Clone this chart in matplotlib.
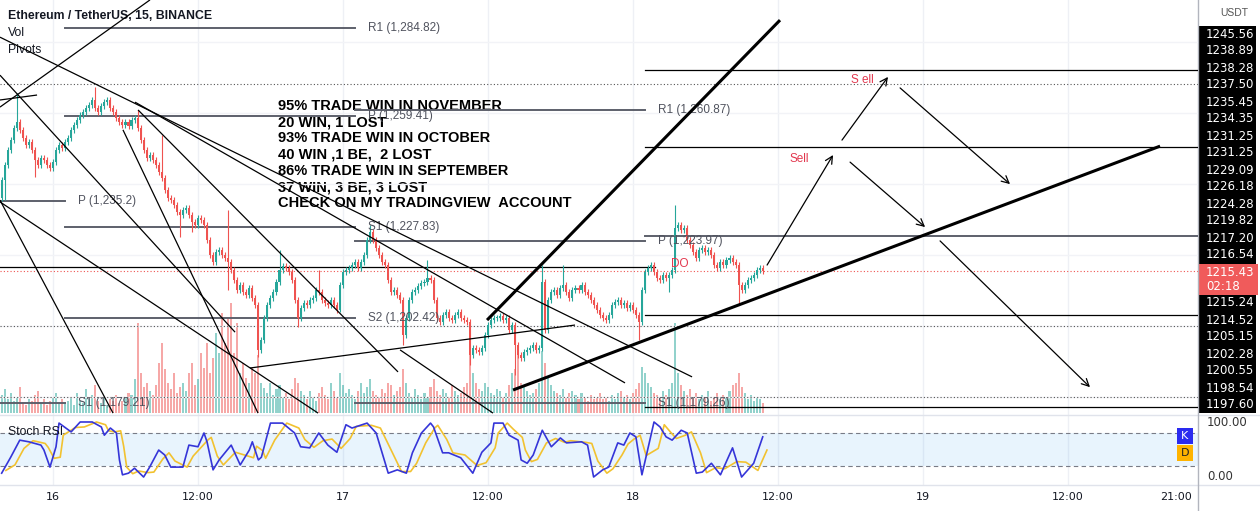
import matplotlib
matplotlib.use("Agg")
import matplotlib.pyplot as plt
from matplotlib.patches import Rectangle
import numpy as np

W, H = 1260, 511
FONT = ["Liberation Sans", "DejaVu Sans"]

# ---------------- data ----------------
# 15 min candles, x = hours after 16 Nov 00:00 (first candle 15 Nov 19:45)
first_hour = -4.25
bar_step = 0.25
first_open = 1236.0
closes = [
    1241.1, 1245.3, 1249.5, 1252.3, 1255.7, 1257.4, 1255.2, 1252.9, 1250.9, 1251.8,
    1249.5, 1246.7, 1245.3, 1247.3, 1246.7, 1245.3, 1244.4, 1246.1, 1249.5, 1250.9,
    1250.1, 1251.8, 1252.9, 1255.2, 1256.6, 1258.0, 1259.4, 1260.2, 1261.4, 1262.2,
    1263.6, 1261.4, 1260.2, 1261.9, 1263.0, 1263.6, 1261.4, 1260.2, 1258.5, 1257.4,
    1256.6, 1257.4, 1256.3, 1258.0, 1258.5, 1255.7, 1252.3, 1249.5, 1247.3, 1248.1,
    1246.7, 1245.3, 1243.3, 1241.6, 1238.2, 1236.0, 1235.4, 1234.0, 1232.0, 1231.2,
    1232.6, 1233.2, 1231.2, 1229.2, 1228.4, 1230.4, 1229.8, 1228.4, 1224.2, 1219.9,
    1218.0, 1220.8, 1221.3, 1219.9, 1219.1, 1218.0, 1215.7, 1212.9, 1210.1, 1211.5,
    1209.5, 1208.7, 1210.6, 1207.8, 1205.8, 1193.2, 1196.0, 1202.2, 1205.8, 1207.8,
    1209.5, 1212.3, 1215.7, 1216.8, 1216.3, 1215.2, 1212.9, 1207.3, 1202.2, 1205.0,
    1206.4, 1205.8, 1207.3, 1207.8, 1210.1, 1209.5, 1207.3, 1206.4, 1205.8, 1207.3,
    1205.8, 1204.4, 1211.5, 1215.2, 1215.7, 1216.3, 1217.1, 1218.0, 1216.3, 1218.0,
    1219.9, 1224.2, 1226.4, 1224.2, 1221.9, 1219.9, 1218.0, 1217.1, 1212.9, 1209.5,
    1210.1, 1208.7, 1207.3, 1197.4, 1202.2, 1207.3, 1209.5, 1210.1, 1211.2, 1212.1,
    1212.3, 1213.5, 1212.9, 1207.3, 1202.2, 1201.1, 1203.0, 1203.9, 1202.2, 1201.6,
    1203.0, 1203.9, 1202.2, 1201.6, 1201.1, 1191.8, 1193.7, 1193.2, 1192.6, 1193.7,
    1197.4, 1200.2, 1201.6, 1202.2, 1202.2, 1202.8, 1201.6, 1202.2, 1198.8, 1200.2,
    1194.6, 1191.8, 1190.9, 1192.6, 1193.2, 1193.7, 1194.6, 1193.2, 1193.7, 1212.3,
    1198.8, 1207.3, 1209.5, 1210.1, 1208.7, 1210.6, 1211.5, 1209.5, 1207.8, 1210.1,
    1210.6, 1210.1, 1211.5, 1209.5, 1208.7, 1207.3, 1205.8, 1204.4, 1203.0, 1202.2,
    1201.6, 1203.0, 1205.8, 1206.7, 1207.3, 1205.8, 1206.4, 1205.0, 1205.8, 1204.4,
    1203.0, 1201.1, 1210.1, 1215.2, 1216.3, 1217.1, 1215.2, 1213.5, 1212.9, 1214.3,
    1213.5, 1214.3, 1215.7, 1227.5, 1228.4, 1227.0, 1227.5, 1224.2, 1222.7, 1220.8,
    1219.1, 1221.3, 1221.9, 1220.8, 1221.3, 1219.9, 1217.1, 1216.3, 1218.0, 1217.1,
    1218.5, 1219.1, 1218.0, 1217.1, 1211.5, 1210.1, 1211.5, 1212.9, 1213.5, 1214.3,
    1215.7, 1216.3, 1215.43,
]
# wicks that reach further than the usual short tail
long_highs = {5: 1265.6, 31: 1267.3, 45: 1260.8, 53: 1253.7, 75: 1232.6, 92: 1221.3,
              105: 1215.7, 122: 1228.4, 141: 1218.5, 179: 1217.1, 186: 1217.1, 223: 1234.0}
long_lows = {1: 1235.4, 11: 1241.9, 59: 1225.0, 63: 1226.4, 75: 1210.1, 85: 1191.2,
             98: 1199.7, 112: 1203.9, 133: 1194.6, 155: 1188.9, 170: 1186.1, 211: 1196.0,
             221: 1209.5, 244: 1205.8}
volumes = [
    18, 24, 14, 20, 12, 16, 26, 10, 8, 14, 12, 18, 22, 10, 14, 8, 12, 16, 20, 10,
    14, 10, 12, 16, 8, 20, 12, 10, 24, 14, 18, 28, 12, 10, 16, 8, 14, 12, 18, 10,
    12, 16, 20, 18, 34, 90, 40, 26, 30, 22, 18, 28, 50, 70, 44, 30, 24, 40, 20, 26,
    30, 22, 40, 50, 28, 34, 60, 45, 70, 40, 55, 80, 60, 100, 70, 95, 110, 60, 90, 40,
    50, 35, 30, 45, 40, 58, 30, 25, 20, 30, 18, 24, 28, 16, 20, 14, 24, 35, 30, 22,
    18, 14, 22, 16, 12, 20, 26, 18, 14, 30, 22, 16, 40, 28, 20, 24, 18, 14, 22, 30,
    20, 26, 34, 22, 18, 16, 24, 20, 30, 28, 18, 22, 26, 44, 30, 20, 16, 24, 18, 14,
    20, 16, 26, 34, 22, 18, 24, 20, 16, 28, 22, 18, 20, 26, 30, 80, 40, 30, 24, 22,
    30, 26, 20, 18, 24, 22, 16, 20, 28, 40, 44, 60, 30, 26, 22, 18, 20, 24, 30, 62,
    50, 36, 28, 22, 20, 18, 24, 16, 20, 22, 18, 14, 20, 16, 12, 18, 14, 16, 20, 14,
    16, 12, 18, 14, 20, 22, 16, 18, 14, 20, 24, 30, 46, 40, 30, 26, 20, 18, 16, 22,
    18, 24, 30, 90, 40, 28, 22, 18, 24, 16, 20, 14, 18, 16, 22, 12, 16, 20, 14, 18,
    16, 22, 28, 30, 40, 26, 20, 14, 18, 12, 16, 14, 10,
]

stoch_idx = [0, 3, 6, 9, 13, 14, 16, 18, 19, 23, 26, 30, 33, 34, 36, 38, 39, 40, 42, 44,
             47, 49, 52, 54, 56, 60, 62, 65, 67, 68, 70, 72, 76, 79, 82, 83, 85, 86, 89, 93,
             97, 99, 102, 105, 108, 111, 114, 116, 121, 124, 128, 131, 134, 136, 139, 142, 143, 146, 148, 152,
             156, 159, 162, 163, 166, 168, 171, 172, 174, 176, 179, 182, 185, 187, 192, 194, 196, 199, 201, 204,
             206, 208, 210, 212, 216, 218, 220, 222, 225, 227, 230, 232, 235, 238, 242, 245, 249, 252]
stoch_k = [7, 36, 67, 64, 58, 49, 18, 55, 98, 82, 100, 100, 91, 76, 89, 80, 31, 4, 7, 16,
           0, 18, 49, 40, 18, 18, 58, 55, 80, 64, 13, 31, 58, 22, 49, 64, 31, 36, 98, 98,
           80, 55, 53, 80, 58, 45, 95, 89, 98, 80, 7, 13, 7, 44, 80, 98, 91, 44, 44, 35,
           7, 45, 62, 98, 98, 76, 67, 31, 25, 40, 85, 55, 71, 62, 64, 58, 0, 13, 18, 62,
           58, 80, 73, 4, 100, 91, 73, 67, 85, 80, 7, 9, 25, 4, 53, 0, 25, 73]
stoch_d = [12, 22, 52, 66, 61, 54, 34, 36, 76, 90, 91, 100, 95, 84, 82, 84, 56, 18, 6, 11,
           8, 9, 33, 44, 29, 18, 38, 56, 68, 72, 38, 22, 45, 40, 35, 56, 48, 34, 67, 98,
           89, 68, 54, 66, 69, 52, 70, 92, 94, 89, 44, 10, 10, 25, 62, 89, 94, 68, 44, 40,
           21, 26, 53, 80, 98, 87, 72, 49, 28, 32, 62, 70, 63, 66, 63, 61, 29, 7, 15, 40,
           60, 69, 76, 39, 52, 95, 82, 70, 76, 82, 44, 8, 17, 15, 28, 27, 12, 49]

day_hours = [0, 12, 24, 36, 48, 60, 72, 84, 93]
day_labels = ["16", "12:00", "17", "12:00", "18", "12:00", "19", "12:00", "21:00"]
last_price = 1215.43

# pivot levels: (from hour, to hour, price, label)
pivots = [
    (-4.4, 1.0, 1235.2, "P (1,235.2)"),
    (-4.4, 1.0, 1178.2, "S1 (1,179.21)"),
    (1.0, 25.0, 1283.9, "R1 (1,284.82)"),
    (1.0, 25.0, 1259.1, "P (1,259.41)"),
    (1.0, 25.0, 1227.8, "S1 (1,227.83)"),
    (1.0, 25.0, 1202.2, "S2 (1,202.42)"),
    (25.0, 49.0, 1260.8, "R1 (1,260.87)"),
    (25.0, 49.0, 1223.9, "P (1,223.97)"),
    (25.0, 49.0, 1178.2, "S1 (1,179.26)"),
    (49.0, 94.8, 1225.3, ""),
]
# hand drawn horizontal lines
levels = [(-4.4, 49.8, 1216.6), (49.0, 94.8, 1272.05), (49.0, 94.8, 1250.4),
          (49.0, 94.8, 1203.0), (49.0, 94.8, 1177.1)]
dotted_levels = [1268.1, 1199.9, 1179.9]
# hand drawn trend lines: (h0, p0, h1, p1, width)
trend_lines = [
    (-4.39, 1261.6, 8.03, 1291.8, 0.9),
    (-4.39, 1263.6, -1.32, 1265.0, 0.9),
    (-4.39, 1281.3, 52.9, 1185.6, 0.9),
    (-4.39, 1270.6, 15.07, 1198.2, 0.9),
    (-4.39, 1235.4, 4.97, 1175.4, 0.9),
    (-4.39, 1234.9, 21.94, 1175.4, 0.9),
    (7.04, 1260.8, 28.56, 1187.0, 0.9),
    (5.79, 1255.2, 16.97, 1175.4, 0.9),
    (28.73, 1193.2, 36.42, 1175.4, 0.9),
    (6.79, 1263.0, 47.35, 1183.9, 0.9),
    (16.31, 1188.1, 43.21, 1200.2, 0.9),
    (35.93, 1201.6, 60.18, 1286.1, 2.2),
    (38.08, 1181.9, 91.64, 1250.6, 2.2),
]
arrows = [
    (59.11, 1217.1, 64.57, 1248.1),
    (65.31, 1252.3, 69.12, 1270.1),
    (70.12, 1267.0, 79.22, 1239.9),
    (65.98, 1246.1, 72.19, 1227.8),
    (73.43, 1223.9, 85.84, 1182.7),
]
red_notes = [(61.75, 1247.0, "Sell"), (66.97, 1269.2, "S ell"), (51.9, 1217.4, "DO")]

notes = ["95% TRADE WIN IN NOVEMBER", "20 WIN, 1 LOST", "93% TRADE WIN IN OCTOBER",
         "40 WIN ,1 BE,  2 LOST", "86% TRADE WIN IN SEPTEMBER", "37 WIN, 3 BE, 3 LOST",
         "CHECK ON MY TRADINGVIEW  ACCOUNT"]

axis_top = ["1245.56", "1238.89", "1238.28", "1237.50", "1235.45", "1234.35", "1231.25",
            "1231.25", "1229.09", "1226.18", "1224.28", "1219.82", "1217.20", "1216.54"]
axis_bottom = ["1215.24", "1214.52", "1205.15", "1202.28", "1200.55", "1198.54", "1197.60"]

UP, DOWN = "#26a69a", "#ef5350"

# ---------------- figure ----------------
fig = plt.figure(figsize=(W / 100, H / 100), dpi=100)
ax = fig.add_axes([0, 1 - 415 / H, 1198 / W, 415 / H])
axv = ax.twinx()
axs = fig.add_axes([0, 1 - 485 / H, 1198 / W, 70 / H], sharex=ax)
ax.set_zorder(axv.get_zorder() + 1)
ax.patch.set_visible(False)

n = len(closes)
t = first_hour + bar_step * np.arange(n)
c = np.array(closes)
o = np.array([first_open] + closes[:-1])
hi = np.maximum(o, c) + 0.8
lo = np.minimum(o, c) - 0.8
for i, v in long_highs.items():
    hi[i] = v
for i, v in long_lows.items():
    lo[i] = v
cols = np.where(c >= o, UP, DOWN)

ax.set_xlim(-4.387, 94.78)
ax.set_ylim(1174.86, 1291.77)
for a in (ax, axv, axs):
    for s in a.spines.values():
        s.set_visible(False)
    a.tick_params(left=False, right=False, labelleft=False, labelright=False,
                  bottom=False, labelbottom=False)

# grid
for hh in day_hours[:-1]:
    axv.axvline(hh, color="#eef0f5", lw=1, zorder=0)
    axs.axvline(hh, color="#eef0f5", lw=1, zorder=0)
for p in range(1180, 1291, 20):
    ax.axhline(p, color="#f2f3f7", lw=1, zorder=0)

# volume
axv.set_ylim(-2, 413)
axv.bar(t, volumes, width=0.17, color=cols, alpha=0.5, zorder=1)

# candles
ax.vlines(t, lo, hi, colors=cols, lw=0.8, zorder=3)
ax.bar(t, np.maximum(np.abs(c - o), 0.2), bottom=np.minimum(o, c), width=0.17,
       color=cols, zorder=4)

# pivots
for h0, h1, p, lab in pivots:
    ax.plot([h0, h1], [p, p], color="#5d606b", lw=1.4, zorder=2)
    if lab:
        ax.text(h1 + 1.08, p, lab, fontsize=8.5, color="#50535e", va="center",
                family=FONT, zorder=5)
for h0, h1, p in levels:
    ax.plot([h0, h1], [p, p], color="black", lw=0.9, zorder=2)
for p in dotted_levels:
    ax.axhline(p, color="#555", lw=0.8, ls=(0, (1, 2)), zorder=2)
ax.axhline(last_price, color=DOWN, lw=0.8, ls=(0, (1, 2)), zorder=2)

for h0, p0, h1, p1, lw in trend_lines:
    ax.plot([h0, h1], [p0, p1], color="black", lw=lw, zorder=6, solid_capstyle="butt")
for h0, p0, h1, p1 in arrows:
    ax.annotate("", xy=(h1, p1), xytext=(h0, p0),
                arrowprops=dict(arrowstyle="->", color="black", lw=0.9,
                                mutation_scale=13, shrinkA=0, shrinkB=0), zorder=6)
for hh, p, s in red_notes:
    ax.text(hh, p, s, color="#e2374e", fontsize=8.5, ha="center", va="center",
            family=FONT, zorder=7)

# stoch rsi
axs.set_ylim(-14.5, 112.7)
axs.axhspan(20, 80, color="#2196f3", alpha=0.1, lw=0, zorder=0)
axs.axhline(80, color="#787b86", lw=0.8, ls=(0, (4, 3)))
axs.axhline(20, color="#787b86", lw=0.8, ls=(0, (4, 3)))
st = first_hour + bar_step * np.array(stoch_idx)
axs.plot(st + 0.35, stoch_d, color="#f2c230", lw=1.2)
axs.plot(st, stoch_k, color="#3535d8", lw=1.2)
axs.set_xticks(day_hours, day_labels)
axs.tick_params(labelbottom=True, length=0, pad=5, labelsize=8, labelcolor="#131722")

# overlay in pixel space
ov = fig.add_axes([0, 0, 1, 1])
ov.set_xlim(0, W)
ov.set_ylim(H, 0)
ov.axis("off")
ov.patch.set_alpha(0)
ov.plot([0, W], [415, 415], color="#e0e3eb", lw=1)
ov.plot([0, W], [485, 485], color="#e0e3eb", lw=1)
ov.plot([1198, 1198], [0, 511], color="#b2b5be", lw=1)

ov.text(8, 16, "Ethereum / TetherUS, 15, BINANCE", fontsize=8.8, weight="bold",
        color="#131722", va="center", family=FONT)
ov.text(8, 33, "Vol", fontsize=8.8, color="#131722", va="center", family=FONT)
ov.text(8, 50, "Pivots", fontsize=8.8, color="#131722", va="center", family=FONT)
ov.text(8, 432, "Stoch RSI", fontsize=8.8, color="#131722", va="center", family=FONT)
for k, s in enumerate(notes):
    ov.text(278, 106 + 16.2 * k, s, fontsize=10.5, weight="bold", color="black",
            va="center", family=FONT, zorder=10)

# price scale
ov.text(1220, 13, "USDT", fontsize=7.5, color="#555", va="center", family=FONT)
ov.add_patch(Rectangle((1198, 26), 58, 238, color="black", lw=0))
ov.add_patch(Rectangle((1198, 295), 58, 118, color="black", lw=0))
ov.add_patch(Rectangle((1198, 264), 60, 31, color="#f05b5b", lw=0))
for k, s in enumerate(axis_top):
    ov.text(1206, 34 + 17 * k, s, fontsize=8.5, color="white", va="center")
ov.text(1206, 272, f"{last_price:.2f}", fontsize=8.5, color="white", va="center")
ov.text(1206, 287, "02:18", fontsize=8.5, color="white", va="center")
for k, s in enumerate(axis_bottom):
    ov.text(1206, 303 + 17 * k, s, fontsize=8.5, color="white", va="center")
ov.text(1207, 423, "100.00", fontsize=8.5, color="#333", va="center")
ov.text(1207, 477, "0.00", fontsize=8.5, color="#333", va="center")
ov.add_patch(Rectangle((1177, 428), 16, 16, color="#2a2af0", lw=0))
ov.add_patch(Rectangle((1177, 445), 16, 16, color="#ffb300", lw=0))
ov.text(1185, 436, "K", fontsize=8, color="white", ha="center", va="center")
ov.text(1185, 453, "D", fontsize=8, color="#222", ha="center", va="center")

fig.savefig("out.png", dpi=100, facecolor="white")
